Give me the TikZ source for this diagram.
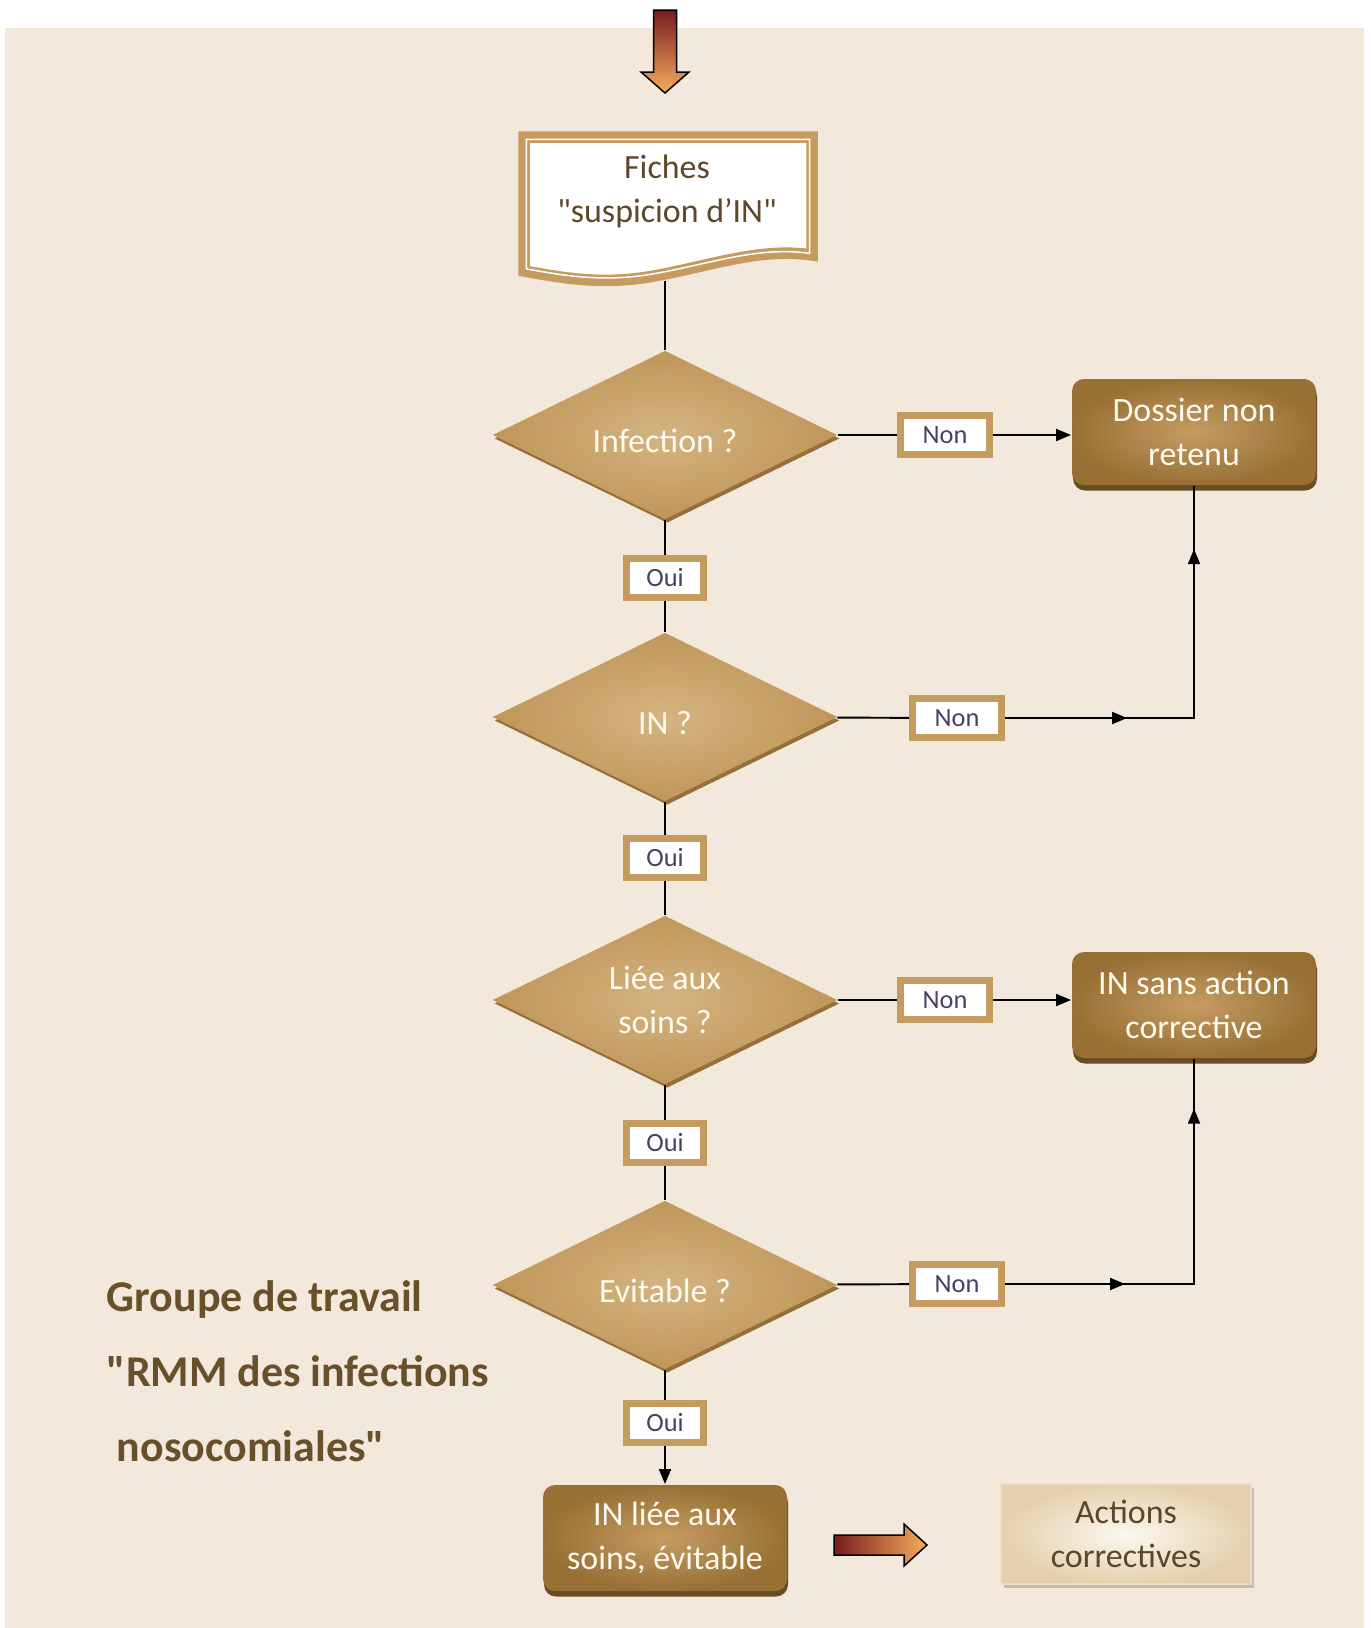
\documentclass[tikz,border=0pt]{standalone}
\usepackage{fontspec}
\setmainfont{Carlito}[Ligatures=TeXOff]
\usetikzlibrary{shapes.geometric,arrows.meta,shadows,decorations.markings}

\definecolor{fondbeige}{RGB}{242,232,220}
\definecolor{cadretan}{RGB}{197,155,96}
\definecolor{losclair}{RGB}{212,180,130}
\definecolor{losfonce}{RGB}{192,150,88}
\definecolor{losombre}{RGB}{150,112,58}
\definecolor{boiteclair}{RGB}{198,156,98}
\definecolor{boitefonce}{RGB}{152,112,52}
\definecolor{boiteombre}{RGB}{104,76,34}
\definecolor{textebrun}{RGB}{92,72,40}
\definecolor{textetitre}{RGB}{104,80,40}
\definecolor{texteetiq}{RGB}{76,62,100}
\definecolor{texteblanc}{RGB}{253,250,240}
\definecolor{flecherouge}{RGB}{120,28,30}
\definecolor{flecheorange}{RGB}{247,172,92}
\definecolor{actclair}{RGB}{252,248,240}
\definecolor{actfonce}{RGB}{228,208,172}

\begin{document}
\begin{tikzpicture}[x=0.2mm, y=-0.2mm, line width=1.1pt,
    txt/.style={font=\fontsize{19.3pt}{25pt}\selectfont, align=center},
    losange/.style={diamond, txt, text=texteblanc, aspect=2.04,
        minimum width=69mm, minimum height=33.8mm, inner sep=0pt,
        inner color=losclair, outer color=losfonce,
        drop shadow={shadow xshift=0.4mm, shadow yshift=-0.7mm, fill=losombre, opacity=1}},
    uneligne/.style={text height=20pt, text depth=0pt},
    etiq/.style={draw=cadretan, line width=1.4mm, fill=white, text=texteetiq,
        minimum height=7.8mm, inner sep=0pt, font=\fontsize{15pt}{18pt}\selectfont},
    oui/.style={etiq, minimum width=15.4mm},
    non/.style={etiq, minimum width=17.8mm},
    boite/.style={rectangle, txt, rounded corners=2.4mm, text=texteblanc,
        minimum width=48.8mm, minimum height=21.2mm,
        inner color=boiteclair, outer color=boitefonce,
        drop shadow={shadow xshift=0.2mm, shadow yshift=-1.1mm, fill=boiteombre, opacity=1}},
    actions/.style={rectangle, txt, text=textebrun, draw=actfonce!70!white, line width=0.6pt,
        minimum width=50mm, minimum height=20mm,
        inner color=actclair, outer color=actfonce,
        drop shadow={shadow xshift=0.5mm, shadow yshift=-0.7mm, fill=actfonce!70!black, opacity=0.5}},
    fleche/.style={-{Triangle[length=3mm,width=2.4mm]}},
    flechesmil/.style 2 args={postaction={decorate}, decoration={markings,
        mark=at position #1 with {\arrow{Triangle[length=3mm,width=2.4mm]}},
        mark=at position #2 with {\arrow{Triangle[length=3mm,width=2.4mm]}}}},
    grosse/.style={draw=black, line width=0.85pt, line join=miter}]

    % fond
    \fill[white] (0,0) rectangle (1371,1628);
    \fill[fondbeige] (5,28) rectangle (1364,1628);
    \useasboundingbox (0,0) rectangle (1371,1628);

    % fleche d'entree
    \draw[grosse, top color=flecherouge, bottom color=flecheorange]
        (653.5,10) -- (676.5,10) -- (676.5,72) -- (689,72) -- (665,93)
        -- (641,72) -- (653.5,72) -- cycle;

    % fiche "suspicion d'IN"
    \draw[shift={(668,207)}, draw=cadretan, fill=white, line width=2.3mm]
        (-144,-70) -- (144,-70) -- (144,48) .. controls (90,40) and (40,60) .. (-20,70)
        .. controls (-70,78) and (-110,70) .. (-144,64) -- cycle;
    \draw[shift={(668,207)}, xscale=0.984, yscale=0.967, white, line width=0.3mm]
        (-144,-70) -- (144,-70) -- (144,48) .. controls (90,40) and (40,60) .. (-20,70)
        .. controls (-70,78) and (-110,70) .. (-144,64) -- cycle;
    \node[txt, text=textebrun] (fiches) at (667,191) {Fiches\\"suspicion d’IN"};
    \coordinate (fichesbas) at (665,281);

    % losanges
    \node[losange, uneligne] (d1) at (665,435) {Infection ?};
    \node[losange, uneligne] (d2) at (665,717) {IN ?};
    \node[losange] (d3) at (665,1000) {Liée aux\\soins ?};
    \node[losange, uneligne] (d4) at (665,1285) {Evitable ?};

    % etiquettes
    \node[oui] (oui1) at (665,578) {Oui};
    \node[oui] (oui2) at (665,858) {Oui};
    \node[oui] (oui3) at (665,1143) {Oui};
    \node[oui] (oui4) at (665,1423) {Oui};
    \node[non] (non1) at (945,435) {Non};
    \node[non] (non2) at (957,718) {Non};
    \node[non] (non3) at (945,1000) {Non};
    \node[non] (non4) at (957,1284) {Non};

    % boites
    \node[boite] (dossier) at (1194,432) {Dossier non\\retenu};
    \node[boite] (sansaction) at (1194,1005) {IN sans action\\corrective};
    \node[boite] (liee) at (665,1538) {IN liée aux\\soins, évitable};
    \node[actions] (correctives) at (1126,1534) {Actions\\correctives};

    % liaisons
    \draw (fichesbas) -- (d1);
    \draw (d1) -- (oui1) -- (d2) -- (oui2) -- (d3) -- (oui3) -- (d4) -- (oui4);
    \draw[fleche] (oui4) -- (liee);
    \draw (d1) -- (non1);
    \draw[fleche] (non1.east) -- (non1.east -| dossier.west);
    \draw (d2) -- (non2);
    \draw[flechesmil={0.29}{0.85}] (non2.east) -| (dossier.south);
    \draw (d3) -- (non3);
    \draw[fleche] (non3.east) -- (non3.east -| sansaction.west);
    \draw (d4) -- (non4);
    \draw[flechesmil={0.29}{0.88}] (non4.east) -| (sansaction.south);

    % fleche vers les actions
    \draw[grosse, left color=flecherouge, right color=flecheorange]
        (834,1535) -- (904,1535) -- (904,1524) -- (927,1545) -- (904,1566)
        -- (904,1555) -- (834,1555) -- cycle;

    % groupe de travail
    \node[anchor=west, align=left, text=textetitre,
        font=\fontsize{25pt}{42.7pt}\bfseries\selectfont] (groupe) at (100,1371)
        {Groupe de travail\\"RMM des infections\\\hspace*{2mm}nosocomiales"};
\end{tikzpicture}
\end{document}
